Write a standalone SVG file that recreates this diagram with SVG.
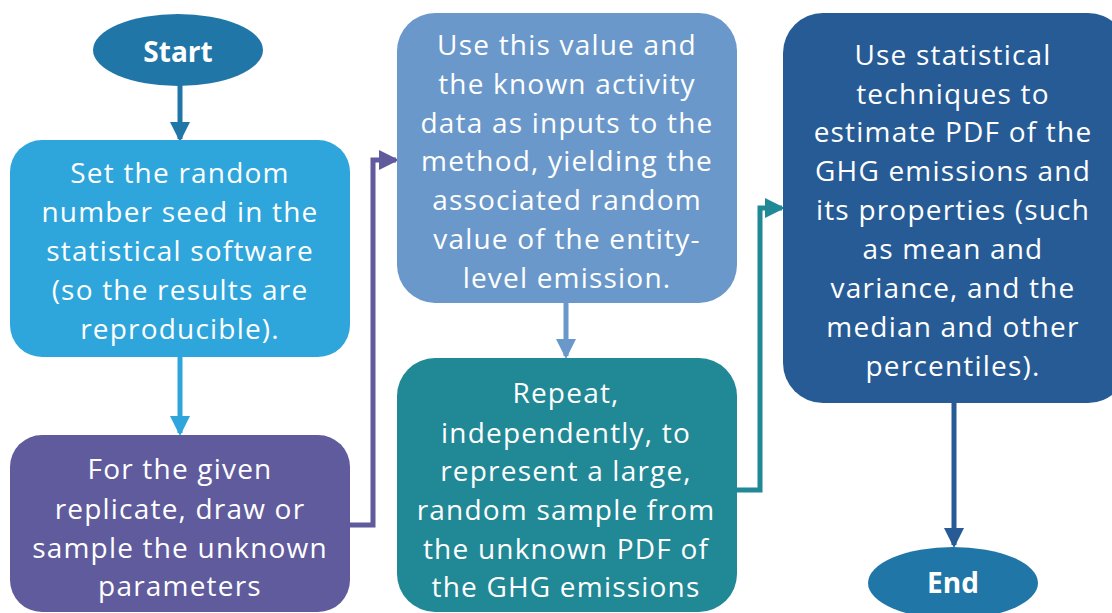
<svg xmlns="http://www.w3.org/2000/svg" width="1112" height="613" viewBox="0 0 1112 613">
  <style>
    .lbl { font-family: "Open Sans", Lato, "Liberation Sans", sans-serif; font-size: 28px; fill: #ffffff; text-anchor: middle; letter-spacing: 1.2px; }
    .term { font-family: "Open Sans", Lato, "Liberation Sans", sans-serif; font-size: 28px; font-weight: bold; fill: #ffffff; text-anchor: middle; }
    .conn { fill: none; stroke-width: 5; }
  </style>
  <defs>
    <marker id="ahStart" markerWidth="4" markerHeight="4" refX="3.4" refY="2" orient="auto" markerUnits="strokeWidth" viewBox="0 0 4 4"><path d="M0,0 L4,2 L0,4 Z" fill="#2176a8"/></marker>
    <marker id="ahSky" markerWidth="4" markerHeight="4" refX="3.4" refY="2" orient="auto" markerUnits="strokeWidth" viewBox="0 0 4 4"><path d="M0,0 L4,2 L0,4 Z" fill="#2ea6dc"/></marker>
    <marker id="ahPurple" markerWidth="4" markerHeight="4" refX="3.4" refY="2" orient="auto" markerUnits="strokeWidth" viewBox="0 0 4 4"><path d="M0,0 L4,2 L0,4 Z" fill="#5f5b9c"/></marker>
    <marker id="ahSteel" markerWidth="4" markerHeight="4" refX="3.4" refY="2" orient="auto" markerUnits="strokeWidth" viewBox="0 0 4 4"><path d="M0,0 L4,2 L0,4 Z" fill="#6a98ca"/></marker>
    <marker id="ahTeal" markerWidth="4" markerHeight="4" refX="3.4" refY="2" orient="auto" markerUnits="strokeWidth" viewBox="0 0 4 4"><path d="M0,0 L4,2 L0,4 Z" fill="#218896"/></marker>
    <marker id="ahNavy" markerWidth="4" markerHeight="4" refX="3.4" refY="2" orient="auto" markerUnits="strokeWidth" viewBox="0 0 4 4"><path d="M0,0 L4,2 L0,4 Z" fill="#265b95"/></marker>
  </defs>

  <g id="connectors">
    <path class="conn" stroke="#2176a8" d="M180,85 L180,139" marker-end="url(#ahStart)"/>
    <path class="conn" stroke="#2ea6dc" d="M180,357 L180,433" marker-end="url(#ahSky)"/>
    <path class="conn" stroke="#5f5b9c" d="M350,525 L373,525 L373,160 L396,160" marker-end="url(#ahPurple)"/>
    <path class="conn" stroke="#6a98ca" d="M566,303 L566,356" marker-end="url(#ahSteel)"/>
    <path class="conn" stroke="#218896" d="M737,490 L760,490 L760,208 L782,208" marker-end="url(#ahTeal)"/>
    <path class="conn" stroke="#265b95" d="M954,403 L954,545" marker-end="url(#ahNavy)"/>
  </g>

  <g id="start">
    <ellipse cx="178" cy="50" rx="85" ry="36" fill="#2176a8"/>
    <text class="term" x="178" y="62">Start</text>
  </g>

  <g id="set-seed">
    <rect x="10" y="140" width="340" height="217" rx="32" fill="#2ea6dc"/>
    <text class="lbl" x="180" y="183">Set the random</text>
    <text class="lbl" x="180" y="222">number seed in the</text>
    <text class="lbl" x="180" y="261">statistical software</text>
    <text class="lbl" x="180" y="300">(so the results are</text>
    <text class="lbl" x="180" y="339">reproducible).</text>
  </g>

  <g id="draw-parameters">
    <rect x="10" y="435" width="340" height="177" rx="32" fill="#5f5b9c"/>
    <text class="lbl" x="180" y="479">For the given</text>
    <text class="lbl" x="180" y="519">replicate, draw or</text>
    <text class="lbl" x="180" y="558">sample the unknown</text>
    <text class="lbl" x="180" y="596">parameters</text>
  </g>

  <g id="compute-emission">
    <rect x="397" y="13" width="340" height="290" rx="38" fill="#6a98ca"/>
    <text class="lbl" x="567" y="55">Use this value and</text>
    <text class="lbl" x="567" y="94">the known activity</text>
    <text class="lbl" x="567" y="133">data as inputs to the</text>
    <text class="lbl" x="567" y="171">method, yielding the</text>
    <text class="lbl" x="567" y="210">associated random</text>
    <text class="lbl" x="567" y="249">value of the entity-</text>
    <text class="lbl" x="567" y="288">level emission.</text>
  </g>

  <g id="repeat">
    <rect x="397" y="358" width="340" height="254" rx="38" fill="#218896"/>
    <text class="lbl" x="566" y="403">Repeat,</text>
    <text class="lbl" x="566" y="443">independently, to</text>
    <text class="lbl" x="566" y="481">represent a large,</text>
    <text class="lbl" x="566" y="520">random sample from</text>
    <text class="lbl" x="566" y="559">the unknown PDF of</text>
    <text class="lbl" x="566" y="597">the GHG emissions</text>
  </g>

  <g id="estimate-pdf">
    <rect x="783" y="13" width="345" height="390" rx="40" fill="#265b95"/>
    <text class="lbl" x="953" y="65">Use statistical</text>
    <text class="lbl" x="953" y="104">techniques to</text>
    <text class="lbl" x="953" y="142">estimate PDF of the</text>
    <text class="lbl" x="953" y="181">GHG emissions and</text>
    <text class="lbl" x="953" y="220">its properties (such</text>
    <text class="lbl" x="953" y="259">as mean and</text>
    <text class="lbl" x="953" y="298">variance, and the</text>
    <text class="lbl" x="953" y="337">median and other</text>
    <text class="lbl" x="953" y="376">percentiles).</text>
  </g>

  <g id="end">
    <ellipse cx="953" cy="583" rx="85" ry="36" fill="#2176a8"/>
    <text class="term" x="953" y="593">End</text>
  </g>
</svg>
